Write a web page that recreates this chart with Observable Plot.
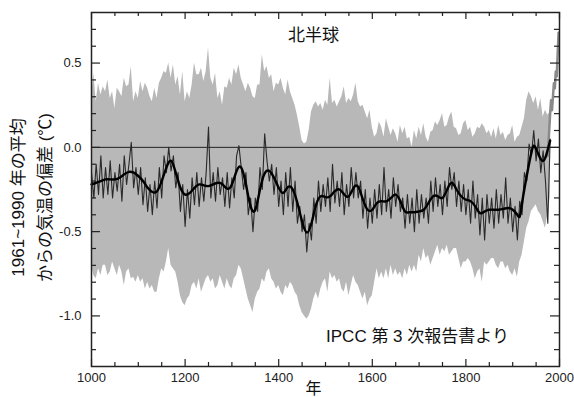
<!DOCTYPE html>
<html><head><meta charset="utf-8">
<script src="https://cdn.jsdelivr.net/npm/d3@7"></script>
<script src="https://cdn.jsdelivr.net/npm/@observablehq/plot@0.6"></script>
<style>body{margin:0;background:#fff}</style>
</head><body><div id="chart"></div>
<script>
// ---- data ----
const bandYears = d3.range(1000, 1981, 5);
const bandUpper = [
  0.30,0.44,0.27,0.38,0.31,0.36,0.33,0.40,0.29,0.33,
  0.23,0.35,0.33,0.30,0.41,0.36,0.37,0.48,0.27,0.33,
  0.29,0.39,0.33,0.38,0.35,0.30,0.27,0.35,0.29,0.38,
  0.41,0.45,0.44,0.50,0.41,0.49,0.37,0.42,0.31,0.45,
  0.27,0.33,0.29,0.37,0.50,0.43,0.43,0.47,0.39,0.45,
  0.59,0.41,0.37,0.44,0.29,0.33,0.25,0.36,0.35,0.41,
  0.37,0.47,0.43,0.49,0.41,0.37,0.33,0.38,0.35,0.30,
  0.29,0.37,0.37,0.55,0.45,0.48,0.41,0.43,0.33,0.38,
  0.37,0.41,0.35,0.31,0.40,0.33,0.29,0.25,0.19,0.12,
  0.04,0.02,0.03,0.10,0.21,0.25,0.27,0.24,0.26,0.22,
  0.28,0.25,0.41,0.26,0.28,0.24,0.27,0.30,0.36,0.26,
  0.29,0.27,0.31,0.38,0.27,0.24,0.25,0.21,0.17,0.22,
  0.12,0.06,0.08,0.15,0.12,0.06,0.17,0.12,0.07,0.11,
  0.08,0.03,0.13,0.08,0.12,0.05,0.06,0.00,0.10,0.05,
  0.12,0.07,0.14,0.06,0.03,0.09,0.10,0.15,0.13,0.16,
  0.20,0.12,0.13,0.18,0.21,0.12,0.11,0.07,0.08,0.14,
  0.16,0.10,0.12,0.06,0.08,0.12,0.11,0.14,0.12,0.08,
  0.10,0.06,0.11,0.05,0.13,0.07,0.09,0.04,0.07,0.08,
  0.13,0.03,0.06,0.07,0.12,0.17,0.28,0.33,0.30,0.26,
  0.30,0.22,0.29,0.18,0.22,0.19,0.21
];
const bandLower = [
  -0.70,-0.76,-0.78,-0.72,-0.76,-0.70,-0.70,-0.76,-0.74,-0.68,
  -0.72,-0.76,-0.70,-0.74,-0.82,-0.74,-0.72,-0.78,-0.77,-0.80,
  -0.76,-0.80,-0.78,-0.84,-0.80,-0.84,-0.82,-0.86,-0.86,-0.78,
  -0.72,-0.74,-0.68,-0.60,-0.70,-0.72,-0.74,-0.80,-0.88,-0.92,
  -0.94,-0.90,-0.88,-0.82,-0.80,-0.84,-0.78,-0.86,-0.82,-0.78,
  -0.76,-0.80,-0.78,-0.84,-0.82,-0.76,-0.80,-0.84,-0.78,-0.82,
  -0.84,-0.78,-0.76,-0.70,-0.72,-0.78,-0.84,-0.90,-0.94,-0.98,
  -0.90,-0.86,-0.84,-0.78,-0.80,-0.74,-0.72,-0.78,-0.80,-0.84,
  -0.82,-0.86,-0.88,-0.82,-0.84,-0.80,-0.82,-0.86,-0.88,-0.94,
  -0.98,-1.00,-1.02,-1.00,-0.96,-0.90,-0.86,-0.90,-0.84,-0.80,
  -0.78,-0.86,-0.74,-0.78,-0.76,-0.80,-0.78,-0.84,-0.86,-0.80,
  -0.88,-0.82,-0.76,-0.80,-0.82,-0.86,-0.90,-0.86,-0.94,-0.90,
  -0.88,-0.80,-0.72,-0.78,-0.74,-0.78,-0.72,-0.78,-0.70,-0.76,
  -0.72,-0.76,-0.74,-0.78,-0.72,-0.76,-0.70,-0.74,-0.70,-0.74,
  -0.64,-0.68,-0.60,-0.66,-0.64,-0.70,-0.66,-0.62,-0.58,-0.64,
  -0.60,-0.62,-0.58,-0.64,-0.62,-0.60,-0.60,-0.66,-0.72,-0.68,
  -0.68,-0.66,-0.68,-0.72,-0.78,-0.74,-0.72,-0.80,-0.68,-0.70,
  -0.68,-0.66,-0.66,-0.70,-0.72,-0.68,-0.68,-0.72,-0.70,-0.74,
  -0.76,-0.72,-0.77,-0.68,-0.64,-0.56,-0.48,-0.44,-0.38,-0.36,
  -0.34,-0.38,-0.40,-0.44,-0.48,-0.40,-0.30
];
const annualYears = d3.range(1000, 1981, 5);
const annualValues = [
  -0.15,-0.30,-0.10,-0.28,-0.05,-0.30,-0.12,-0.28,-0.08,-0.30,
  -0.15,-0.26,-0.10,-0.32,-0.05,-0.22,-0.10,0.03,-0.24,-0.12,
  -0.28,-0.12,-0.34,-0.18,-0.38,-0.22,-0.40,-0.20,-0.36,-0.12,
  -0.30,-0.05,-0.15,0.00,-0.14,-0.05,-0.24,-0.15,-0.38,-0.22,
  -0.47,-0.25,-0.42,-0.18,-0.34,-0.15,-0.35,-0.18,-0.32,-0.15,
  0.12,-0.30,-0.15,-0.32,-0.12,-0.28,-0.18,-0.35,-0.15,-0.36,
  -0.18,-0.30,-0.05,0.01,-0.12,-0.25,-0.15,-0.40,-0.30,-0.50,
  -0.30,-0.38,-0.12,-0.25,0.08,-0.08,-0.20,-0.10,-0.28,-0.12,
  -0.35,-0.20,-0.40,-0.15,-0.35,-0.12,-0.38,-0.20,-0.45,-0.35,
  -0.50,-0.40,-0.62,-0.45,-0.55,-0.30,-0.45,-0.20,-0.38,-0.22,
  -0.35,-0.18,-0.38,-0.10,-0.33,-0.20,-0.35,-0.15,-0.40,-0.22,
  -0.35,-0.12,-0.30,-0.15,-0.30,-0.20,-0.42,-0.25,-0.48,-0.30,
  -0.45,-0.25,-0.42,-0.22,-0.40,-0.12,-0.38,-0.25,-0.42,-0.18,
  -0.35,-0.22,-0.38,-0.30,-0.48,-0.28,-0.45,-0.30,-0.50,-0.25,
  -0.45,-0.28,-0.42,-0.30,-0.45,-0.20,-0.38,-0.18,-0.35,-0.22,
  -0.40,-0.20,-0.35,-0.12,-0.25,-0.15,-0.35,-0.20,-0.38,-0.22,
  -0.40,-0.25,-0.45,-0.20,-0.42,-0.28,-0.52,-0.30,-0.55,-0.28,
  -0.45,-0.30,-0.48,-0.25,-0.45,-0.28,-0.42,-0.18,-0.45,-0.30,
  -0.50,-0.35,-0.55,-0.32,-0.40,-0.15,-0.20,0.02,-0.05,0.10,
  -0.08,0.05,-0.15,-0.02,-0.20,-0.45,0.05
];
const smoothYears = [1000,1010,1020,1030,1040,1050,1060,1070,1080,1090,1100,1110,1120,1130,1140,1150,1160,1170,1180,1190,
  1200,1210,1220,1230,1240,1250,1260,1270,1280,1290,1300,1310,1320,1330,1340,1350,1360,1370,1380,1390,
  1400,1410,1420,1430,1440,1450,1460,1470,1480,1490,1500,1510,1520,1530,1540,1550,1560,1570,1580,1590,
  1600,1610,1620,1630,1640,1650,1660,1670,1680,1690,1700,1710,1720,1730,1740,1750,1760,1770,1780,1790,
  1800,1810,1820,1830,1840,1850,1860,1870,1880,1890,1900,1910,1915,1920,1930,1940,1945,1950,1960,1965,1970,1980];
const smoothValues = [-0.22,-0.21,-0.20,-0.19,-0.19,-0.19,-0.18,-0.16,-0.145,-0.15,-0.17,-0.20,-0.24,-0.265,-0.26,-0.20,-0.12,-0.08,-0.15,-0.24,
  -0.28,-0.27,-0.24,-0.22,-0.225,-0.23,-0.22,-0.21,-0.22,-0.245,-0.22,-0.14,-0.12,-0.22,-0.35,-0.37,-0.25,-0.155,-0.14,-0.18,
  -0.24,-0.27,-0.235,-0.25,-0.33,-0.44,-0.505,-0.45,-0.34,-0.29,-0.295,-0.29,-0.26,-0.25,-0.28,-0.29,-0.24,-0.235,-0.31,-0.37,
  -0.37,-0.33,-0.32,-0.32,-0.30,-0.28,-0.32,-0.38,-0.385,-0.385,-0.38,-0.37,-0.33,-0.29,-0.29,-0.30,-0.25,-0.21,-0.25,-0.29,
  -0.31,-0.32,-0.35,-0.39,-0.38,-0.37,-0.37,-0.37,-0.365,-0.36,-0.37,-0.40,-0.41,-0.33,-0.17,-0.03,0.01,-0.01,-0.07,-0.08,-0.06,0.04];
const instrYears = [1975,1978,1980,1982,1984,1986,1988,1990,1992,1994,1996,1998];
const instrValues = [-0.05,0.10,0.20,0.28,0.22,0.30,0.38,0.35,0.45,0.42,0.55,0.68];
const xTickLabels = [1000,1200,1400,1600,1800,2000];
const xMinorTicks = [1050,1100,1150,1250,1300,1350,1450,1500,1550,1650,1700,1750,1850,1900,1950];
const yTickLabels = [-1.0,-0.5,0.0,0.5];
const yMinorTicks = [-1.2,-1.1,-0.9,-0.8,-0.7,-0.6,-0.4,-0.3,-0.2,-0.1,0.1,0.2,0.3,0.4,0.6,0.7];
const titleText = "北半球";
const noteText = "IPCC 第 3 次報告書より";
const yLabel1 = "1961~1990 年の平均";
const yLabel2 = "からの気温の偏差 (℃)";
const xLabel = "年";

// ---- tables ----
const band = bandYears.map((year, i) => ({year, hi: bandUpper[i], lo: bandLower[i]}));
const annual = annualYears.map((year, i) => ({year, v: annualValues[i]}));
const smooth = smoothYears.map((year, i) => ({year, v: smoothValues[i]}));
const instr = instrYears.map((year, i) => ({year, v: instrValues[i]}));

const W = 574, H = 397, ML = 91, MR = 15, MT = 12, MB = 31;
const FW = W - ML - MR, FH = H - MT - MB;
const FONT = "'Liberation Sans', 'Noto Sans CJK JP', sans-serif";
const txt = {textAnchor: "middle", lineAnchor: "middle", fill: "#111", fontSize: 17};
const tk = {stroke: "#222", strokeWidth: 1.2};

const chart = Plot.plot({
  width: W, height: H,
  marginLeft: ML, marginRight: MR, marginTop: MT, marginBottom: MB,
  style: {fontFamily: FONT, fontSize: "13px", color: "#222", background: "#fff"},
  x: {domain: [1000, 2000]},
  y: {domain: [-1.3, 0.8]},
  marks: [
    Plot.areaY(band, {x: "year", y1: "lo", y2: "hi", fill: "#b8b8b8"}),
    Plot.ruleY([0], {stroke: "#222", strokeWidth: 1}),
    Plot.line(instr, {x: "year", y: "v", stroke: "#8a8a8a", strokeWidth: 2.5}),
    Plot.line(annual, {x: "year", y: "v", stroke: "#2a2a2a", strokeWidth: 1.1}),
    Plot.line(smooth, {x: "year", y: "v", stroke: "#000", strokeWidth: 2.4, curve: "natural"}),
    Plot.frame({stroke: "#222", strokeWidth: 1.5}),
    // inward ticks: full-height rules inset to a short stub at each edge
    Plot.ruleX(xMinorTicks, {...tk, insetTop: FH - 4}),
    Plot.ruleX(xMinorTicks, {...tk, insetBottom: FH - 4}),
    Plot.ruleX(xTickLabels, {...tk, insetTop: FH - 7}),
    Plot.ruleX(xTickLabels, {...tk, insetBottom: FH - 7}),
    Plot.ruleY(yMinorTicks, {...tk, insetRight: FW - 5}),
    Plot.ruleY(yMinorTicks, {...tk, insetLeft: FW - 5}),
    Plot.ruleY(yTickLabels, {...tk, insetRight: FW - 9}),
    Plot.ruleY(yTickLabels, {...tk, insetLeft: FW - 9}),
    // tick labels
    Plot.axisX(xTickLabels, {anchor: "bottom", tickSize: 0, tickPadding: 6, tickFormat: d => String(d), label: null, fontSize: 13}),
    Plot.axisY(yTickLabels, {anchor: "left", tickSize: 0, tickPadding: 10, tickFormat: d => d.toFixed(1), label: null, fontSize: 13}),
    // texts
    Plot.text([titleText], {...txt, frameAnchor: "top", dx: -12, dy: 23}),
    Plot.text([noteText], {...txt, frameAnchor: "bottom", dx: 92, dy: -30}),
    Plot.text([yLabel1], {...txt, frameAnchor: "left", dx: -73, dy: 8, rotate: -90}),
    Plot.text([yLabel2], {...txt, frameAnchor: "left", dx: -46, dy: 8, rotate: -90}),
    Plot.text([xLabel], {...txt, frameAnchor: "bottom", dx: -12, dy: 22, fontSize: 16})
  ]
});
document.getElementById("chart").appendChild(chart);
</script>
</body></html>
